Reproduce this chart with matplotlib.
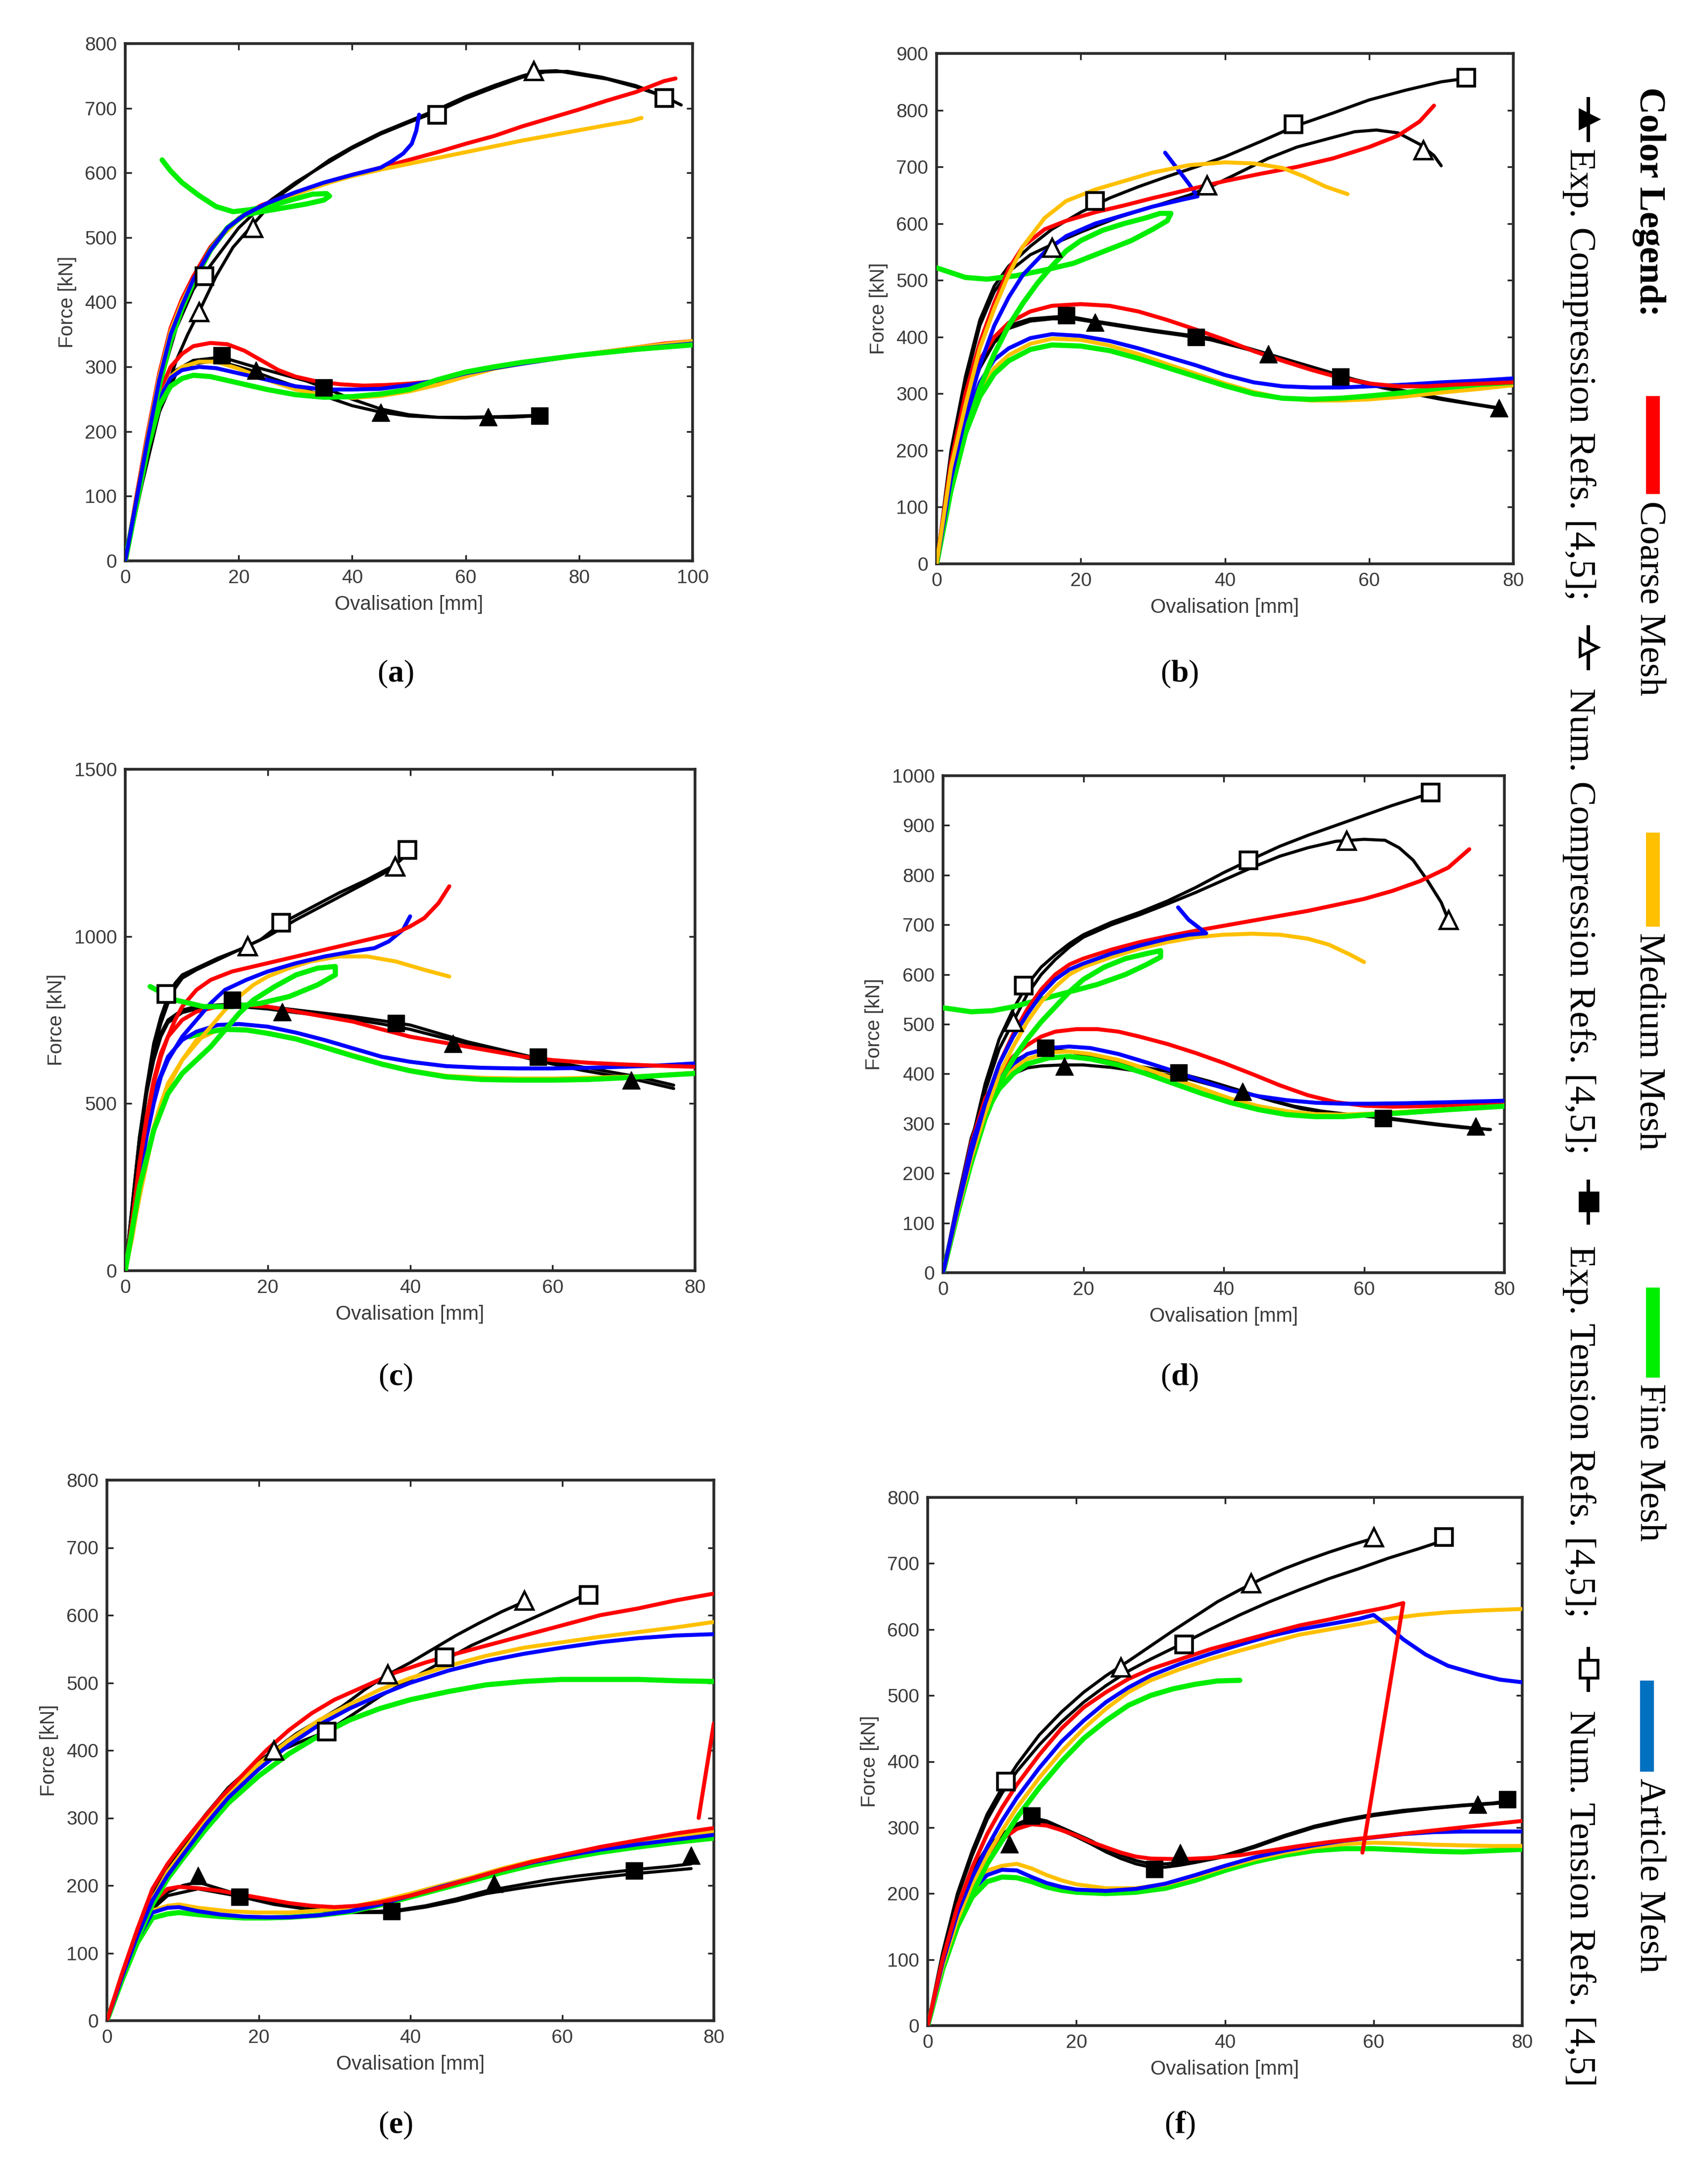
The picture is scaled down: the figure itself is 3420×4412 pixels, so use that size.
import matplotlib
matplotlib.use("Agg")
import matplotlib.pyplot as plt
from matplotlib.lines import Line2D
from matplotlib.patches import Rectangle

plt.rcParams['mathtext.fontset'] = 'custom'
plt.rcParams['mathtext.rm'] = 'Liberation Serif'
plt.rcParams['mathtext.bf'] = 'Liberation Serif:bold'

RED = '#FF0000'
ORANGE = '#FFC000'
GREEN = '#00EE00'
BLUE = '#0000FF'
LEG_BLUE = '#0070C0'

# ---------------- panel (a) ----------------
A_NUMC = [(0,0),(3,120),(6,230),(9,310),(11,350),(13,385),(16,440),(19,485),(22,515),(25,545),(28,570),(32,595),(36,620),(40,640),(45,662),(50,680),(55,698),(60,718),(65,735),(70,750),(73,757),(76,758),(80,752),(85,745),(90,733),(95,718),(98,705)]
A_NUMT = [(0,0),(3,150),(6,270),(9,360),(12,420),(14,445),(17,480),(20,515),(23,540),(26,560),(30,585),(35,612),(40,638),(45,660),(50,678),(55,695),(60,715),(65,732),(70,748),(74,756),(78,757),(84,748),(90,735),(95,718)]
A_EXPC = [(0,0),(3,130),(6,230),(9,290),(12,305),(15,308),(18,305),(22,295),(26,282),(30,270),(35,255),(40,240),(45,230),(50,224),(55,222),(60,221),(64,222),(68,222),(72,224)]
A_EXPT = [(0,0),(3,130),(6,235),(9,295),(12,310),(17,315),(22,302),(27,290),(32,278),(35,268),(40,250),(45,235),(50,226),(55,222),(60,222),(66,223),(73,225)]
A_TRI_OPEN = [(13,385),(22.5,515),(72,758)]
A_SQ_OPEN = [(14,440),(55,690),(95,716)]
A_TRI_FILL = [(23,295),(45,230),(64,223)]
A_SQ_FILL = [(17,318),(35,268),(73,224)]
A_RED_UP = [(0,0),(2,100),(4,200),(6,290),(8,360),(10,405),(12,440),(15,485),(17,505),(20,530),(24,550),(28,563),(32,575),(36,587),(40,597),(45,608),(50,620),(55,632),(60,645),(65,657),(70,672),(75,685),(80,698),(85,712),(90,725),(95,742),(97,746)]
A_ORA_UP = [(0,0),(2,95),(4,195),(6,285),(8,355),(10,400),(12,435),(15,480),(17,502),(20,528),(24,548),(28,561),(32,573),(36,585),(40,595),(45,605),(50,614),(55,623),(60,632),(65,641),(70,650),(75,658),(80,666),(85,674),(89,680),(91,685)]
A_BLU_UP = [(0,0),(2,95),(4,190),(6,280),(8,350),(10,395),(12,435),(15,480),(18,515),(21,535),(25,553),(30,570),(35,585),(40,597),(45,608),(47,618),(49,630),(50.5,645),(51.3,665),(51.8,690)]
A_GRN_UP = [(0,0),(2,90),(4,185),(6,270),(8,340),(10,390),(12,430),(15,480),(18,515),(21,535),(24,540),(28,546),(32,552),(35,558),(36,564),(35.5,568),(33,567),(30,560),(26,550),(22,543),(19,540),(16,548),(13,565),(10,585),(8,603),(6.5,620)]
A_RED_LO = [(0,0),(2,100),(4,200),(6,260),(8,300),(10,320),(12,332),(15,337),(18,335),(21,325),(24,310),(27,295),(30,285),(34,277),(38,273),(42,271),(46,272),(50,274),(55,278),(60,288),(65,298),(70,305),(75,312),(80,318),(85,324),(90,330),(95,336),(100,340)]
A_ORA_LO = [(0,0),(2,90),(4,180),(6,250),(8,285),(10,300),(13,308),(16,308),(20,297),(25,280),(30,265),(35,256),(40,252),(45,255),(50,262),(55,272),(60,285),(65,297),(70,305),(80,318),(90,330),(100,340)]
A_BLU_LO = [(0,0),(2,90),(4,180),(6,250),(8,283),(10,295),(13,300),(16,298),(20,290),(25,280),(30,270),(35,265),(40,265),(45,266),(50,272),(55,279),(60,290),(65,298),(70,305),(80,318),(90,328),(100,336)]
A_GRN_LO = [(0,0),(2,88),(4,175),(6,240),(8,270),(10,282),(12,287),(15,285),(20,275),(25,265),(30,257),(35,253),(40,254),(45,258),(50,265),(55,280),(60,292),(65,300),(70,307),(80,318),(90,327),(100,334)]

# ---------------- panel (b) ----------------
B_NUMT = [(0,0),(2,200),(4,330),(6,430),(8,490),(10,525),(13,560),(16,590),(20,620),(24,645),(28,665),(32,683),(36,700),(40,718),(45,745),(50,773),(55,795),(60,818),(65,835),(70,850),(74,857)]
B_NUMC = [(0,0),(2,190),(4,320),(6,420),(8,480),(10,515),(13,545),(16,563),(20,585),(25,610),(30,630),(35,650),(38,665),(42,690),(46,715),(50,735),(55,752),(58,762),(61,765),(64,760),(67,740),(69,720),(70,702)]
B_EXPT = [(0,0),(2,170),(4,280),(6,350),(8,395),(10,420),(13,432),(16,435),(18,437),(22,428),(26,420),(30,412),(34,405),(38,398),(42,385),(46,370),(50,355),(54,340),(58,325),(62,313),(66,302),(70,292),(74,283),(78,275)]
B_EXPC = [(0,0),(2,165),(4,275),(6,345),(8,390),(10,415),(13,428),(16,432),(19,432),(22,426),(26,418),(30,410),(34,403),(38,395),(42,382),(46,368),(50,353),(54,338),(58,322),(62,310),(66,300),(70,290),(74,282),(78,274)]
B_TRI_OPEN = [(16,558),(37.5,668),(67.5,730)]
B_SQ_OPEN = [(22,640),(49.5,775),(73.5,857)]
B_TRI_FILL = [(22,426),(46,370),(78,275)]
B_SQ_FILL = [(18,438),(36,400),(56,330)]
B_RED_UP = [(0,0),(2,180),(4,300),(6,390),(8,460),(10,520),(12,560),(15,590),(18,605),(22,620),(26,632),(30,645),(35,660),(40,675),(45,688),(50,700),(55,715),(60,735),(64,755),(67,780),(69,808)]
B_ORA_UP = [(0,0),(2,170),(4,280),(6,380),(8,450),(10,510),(12,560),(15,610),(18,640),(22,660),(26,675),(30,690),(35,703),(40,708),(44,706),(48,698),(51,683),(54,665),(57,652)]
B_BLU_UP = [(0,0),(2,150),(4,260),(6,350),(8,420),(10,470),(12,510),(15,550),(18,578),(22,600),(26,615),(30,630),(34,642),(36.2,648),(35,670),(33.5,695),(31.7,725)]
B_GRN_UP = [(0,0),(2,130),(4,230),(6,310),(8,370),(10,420),(12,460),(14,495),(16,525),(18,552),(20,570),(23,588),(26,600),(29,610),(31,618),(32.5,618),(32,605),(30,590),(27,570),(23,550),(19,530),(15,518),(11,508),(7,502),(4,505),(0,522)]
B_RED_LO = [(0,0),(2,170),(4,290),(6,360),(8,400),(10,425),(13,445),(16,455),(20,458),(24,455),(28,445),(32,430),(36,413),(40,395),(44,375),(48,358),(52,342),(56,328),(60,318),(64,313),(68,313),(72,316),(76,318),(80,320)]
B_BLU_LO = [(0,0),(2,150),(4,250),(6,320),(8,360),(10,380),(13,398),(16,405),(20,402),(24,393),(28,380),(32,365),(36,350),(40,333),(44,320),(48,313),(52,311),(56,311),(60,313),(65,316),(70,320),(75,323),(80,327)]
B_ORA_LO = [(0,0),(2,140),(4,240),(6,305),(8,345),(10,368),(13,388),(16,397),(20,395),(24,385),(28,370),(32,352),(36,335),(40,318),(44,303),(48,292),(52,288),(56,288),(60,290),(65,295),(70,302),(75,308),(80,315)]
B_GRN_LO = [(0,0),(2,130),(4,230),(6,295),(8,335),(10,358),(13,378),(16,386),(20,384),(24,376),(28,362),(32,346),(36,330),(40,314),(44,300),(48,292),(52,290),(56,292),(60,296),(65,302),(70,310),(75,316),(80,320)]

# ---------------- panel (c) ----------------
C_NUMT = [(0,0),(1,200),(2,400),(3,550),(4,680),(5,760),(6,820),(7,860),(8,885),(10,905),(13,935),(16,960),(19,990),(22,1040),(26,1085),(30,1130),(34,1170),(38,1215),(40,1255)]
C_NUMC = [(0,0),(1,180),(2,380),(3,530),(4,660),(5,740),(6,800),(7,845),(8,875),(10,900),(13,930),(17,970),(20,1000),(24,1050),(28,1095),(32,1140),(36,1185),(38,1210)]
C_EXPT = [(0,0),(1,200),(2,400),(3,540),(4,640),(5,710),(6,750),(8,780),(10,790),(13,795),(16,798),(20,790),(24,780),(28,770),(32,760),(36,748),(40,735),(44,710),(48,685),(52,665),(56,645),(60,625),(64,610),(68,595),(72,580),(77,555)]
C_EXPC = [(0,0),(1,190),(2,390),(3,530),(4,630),(5,700),(6,742),(8,772),(10,783),(13,788),(16,790),(20,783),(24,772),(28,762),(32,752),(36,738),(40,722),(44,700),(48,680),(52,660),(56,638),(60,618),(64,600),(68,585),(72,570),(77,545)]
C_TRI_OPEN = [(17.2,972),(37.9,1210)]
C_SQ_OPEN = [(5.8,827),(21.9,1041),(39.6,1259)]
C_TRI_FILL = [(22,775),(46,680),(71,570)]
C_SQ_FILL = [(15,810),(38,740),(58,640)]
C_RED_UP = [(0,0),(1,150),(2,320),(3,450),(4,560),(5,640),(6,700),(7,750),(8,790),(10,840),(12,870),(15,895),(18,910),(22,930),(26,950),(30,970),(34,990),(38,1010),(40,1030),(42,1055),(44,1100),(45.5,1150)]
C_BLU_UP = [(0,0),(1,130),(2,280),(3,400),(4,500),(5,580),(6,630),(8,700),(10,750),(12,800),(14,840),(17,870),(20,895),(24,920),(28,940),(32,955),(35,965),(37,985),(39,1020),(40,1060)]
C_ORA_UP = [(0,0),(1,100),(2,230),(3,340),(4,430),(5,500),(6,560),(8,630),(10,680),(12,730),(14,780),(16,820),(18,855),(20,880),(23,905),(26,925),(30,940),(34,940),(38,925),(42,900),(45.5,880)]
C_GRN_UP = [(0,0),(2,250),(4,420),(6,530),(8,590),(10,630),(12,670),(14,720),(16,770),(18,810),(21,850),(24,885),(27,905),(29.5,910),(29.5,885),(27,855),(23,820),(19,800),(15,790),(11,790),(7,810),(3.5,850)]
C_RED_LO = [(0,0),(1,150),(2,320),(3,460),(4,570),(5,650),(6,700),(8,750),(10,775),(13,790),(16,795),(20,790),(24,775),(28,760),(32,745),(36,722),(40,700),(44,685),(48,670),(52,655),(56,640),(60,630),(65,622),(70,617),(75,613),(80,610)]
C_BLU_LO = [(0,0),(2,300),(4,530),(6,640),(8,690),(10,715),(13,735),(16,738),(20,730),(24,712),(28,690),(32,665),(36,640),(40,625),(45,612),(50,607),(55,605),(60,605),(65,607),(70,610),(75,614),(80,620)]
C_ORA_LO = [(0,0),(2,220),(4,420),(6,550),(8,630),(10,690),(13,720),(16,722),(20,712),(24,695),(28,670),(32,645),(36,620),(40,600),(45,583),(50,577),(55,575),(60,575),(65,577),(70,580),(75,585),(80,592)]
C_GRN_LO = [(9,700),(11,712),(14,722),(17,720),(20,710),(24,693),(28,668),(32,642),(36,618),(40,598),(45,580),(50,572),(55,570),(60,570),(65,572),(70,577),(75,584),(80,590)]

# ---------------- panel (d) ----------------
D_NUMT = [(0,0),(2,130),(4,260),(6,380),(8,470),(10,530),(12,580),(14,615),(16,640),(18,662),(20,680),(24,705),(28,725),(32,748),(36,775),(40,805),(44,832),(48,858),(52,880),(56,900),(60,920),(64,940),(68,958),(70,965)]
D_NUMC = [(0,0),(2,125),(4,250),(6,365),(8,450),(10,505),(12,560),(14,600),(16,630),(18,655),(20,675),(24,700),(28,720),(32,742),(36,765),(40,790),(44,815),(48,838),(52,855),(56,868),(60,872),(63,870),(65,855),(67,830),(69,790),(71,745),(72,710)]
D_EXPT = [(0,0),(2,140),(4,270),(6,350),(8,400),(10,425),(12,440),(15,450),(18,445),(22,432),(26,420),(30,410),(34,400),(38,385),(42,368),(46,350),(50,335),(54,325),(58,318),(62,312),(66,305),(70,298),(74,292),(78,288)]
D_EXPC = [(0,0),(2,130),(4,250),(6,330),(8,375),(10,400),(12,412),(14,416),(17,418),(20,418),(24,413),(28,405),(32,398),(35,390),(39,375),(43,362),(47,345),(51,330),(55,322),(59,317),(63,312),(67,305),(71,298),(75,292),(78,288)]
D_TRI_OPEN = [(10,505),(57.5,870),(72,710)]
D_SQ_OPEN = [(11.5,578),(43.5,830),(69.5,966)]
D_TRI_FILL = [(17.3,415),(42.7,365),(75.9,295)]
D_SQ_FILL = [(14.6,452),(33.6,402),(62.7,311)]
D_RED_UP = [(0,0),(2,125),(4,240),(6,340),(8,420),(10,480),(12,530),(14,570),(16,600),(18,620),(20,632),(24,650),(28,665),(32,677),(36,688),(40,698),(44,708),(48,718),(52,728),(56,740),(60,752),(64,768),(68,788),(72,815),(75,852)]
D_BLU_UP = [(0,0),(2,125),(4,240),(6,340),(8,420),(10,475),(12,520),(14,560),(16,590),(18,610),(20,622),(24,642),(28,658),(32,672),(35,680),(37.5,683),(35,710),(33.5,735)]
D_ORA_UP = [(0,0),(2,120),(4,230),(6,320),(8,400),(10,455),(12,505),(14,545),(16,575),(18,600),(20,615),(24,635),(28,652),(32,665),(36,675),(40,680),(44,682),(48,680),(52,672),(55,660),(58,640),(60,625)]
D_GRN_UP = [(0,0),(2,115),(4,220),(6,310),(8,380),(10,430),(12,470),(14,505),(16,535),(18,565),(20,590),(23,615),(26,632),(29,642),(31,648),(31,635),(29,620),(26,600),(22,580),(18,565),(14,550),(10,535),(7,527),(4,525),(0,533)]
D_RED_LO = [(0,0),(2,130),(4,260),(6,350),(8,400),(10,435),(12,458),(14,475),(16,485),(19,490),(22,490),(25,485),(28,475),(32,460),(36,442),(40,422),(44,400),(48,377),(52,357),(56,343),(60,336),(64,334),(68,335),(72,337),(76,339),(80,340)]
D_BLU_LO = [(0,0),(2,130),(4,255),(6,340),(8,390),(10,420),(12,440),(15,452),(18,455),(21,452),(25,440),(29,423),(33,405),(37,385),(41,367),(45,355),(49,347),(53,342),(57,340),(61,340),(66,341),(72,343),(80,346)]
D_ORA_LO = [(0,0),(2,125),(4,245),(6,330),(8,380),(10,410),(12,430),(15,443),(18,445),(21,440),(25,428),(29,410),(33,390),(37,370),(41,350),(45,335),(49,325),(53,319),(57,318),(61,320),(66,324),(72,329),(80,336)]
D_GRN_LO = [(0,0),(2,120),(4,235),(6,320),(8,370),(10,400),(12,420),(15,432),(18,435),(21,430),(25,418),(29,400),(33,380),(37,360),(41,342),(45,328),(49,318),(53,314),(57,314),(61,318),(66,322),(72,328),(80,335)]

# ---------------- panel (e) ----------------
E_NUMC = [(0,0),(2,70),(4,135),(6,185),(8,225),(10,260),(13,305),(16,345),(19,375),(22,400),(25,425),(28,445),(31,465),(34,490),(37,512),(40,530),(43,550),(46,570),(49,588),(52,605),(55,620)]
E_NUMT = [(0,0),(2,70),(4,135),(6,182),(8,220),(10,255),(13,300),(16,340),(19,372),(22,395),(26,415),(29,428),(32,450),(36,480),(40,505),(44,530),(48,555),(52,575),(56,595),(60,615),(63,630)]
E_EXPC = [(0,0),(2,70),(4,130),(6,170),(8,190),(10,200),(12,205),(14,198),(17,188),(20,180),(23,172),(26,166),(30,162),(34,161),(38,163),(42,170),(46,180),(50,192),(54,200),(58,208),(62,214),(66,219),(70,224),(74,228),(77,232)]
E_EXPT = [(0,0),(2,68),(4,128),(6,165),(8,185),(12,195),(17,185),(22,172),(27,164),(32,160),(37,160),(42,168),(46,177),(50,188),(55,197),(60,205),(65,212),(70,218),(77,225)]
E_TRI_OPEN = [(22,400),(37,513),(55,622)]
E_SQ_OPEN = [(29,428),(44.5,538),(63.5,630)]
E_TRI_FILL = [(12,215),(51,203),(77,245)]
E_SQ_FILL = [(17.5,183),(37.5,162),(69.5,222)]
E_RED_UP = [(0,0),(2,70),(4,135),(6,195),(8,232),(10,262),(12,290),(15,330),(18,365),(21,400),(24,430),(27,455),(30,475),(34,495),(38,515),(42,530),(46,543),(50,555),(55,570),(60,585),(65,600),(70,610),(75,622),(80,632)]
E_ORA_UP = [(0,0),(2,65),(4,125),(6,180),(8,220),(10,250),(13,295),(16,335),(20,380),(24,415),(28,445),(32,468),(36,490),(40,507),(45,525),(50,540),(55,552),(60,560),(65,568),(70,575),(75,582),(80,590)]
E_BLU_UP = [(0,0),(2,65),(4,125),(6,178),(8,215),(10,245),(13,290),(16,330),(20,372),(24,408),(28,438),(32,462),(36,482),(40,500),(45,518),(50,532),(55,543),(60,552),(65,560),(70,566),(75,570),(80,572)]
E_GRN_UP = [(0,0),(2,62),(4,120),(6,172),(8,210),(10,240),(13,283),(16,322),(20,362),(24,395),(28,422),(32,445),(36,462),(40,475),(45,487),(50,497),(55,502),(60,505),(65,505),(70,505),(75,503),(80,502)]
E_RED_JUMP = [(78,300),(80,440)]
E_RED_LO = [(0,0),(2,65),(4,125),(6,175),(8,195),(9.5,198),(12,196),(15,192),(18,186),(21,180),(24,174),(27,170),(30,168),(33,170),(36,175),(40,185),(44,197),(48,210),(52,223),(56,235),(60,245),(65,257),(70,267),(75,277),(80,285)]
E_ORA_LO = [(0,0),(2,62),(4,120),(6,163),(8,170),(9.5,172),(12,167),(16,162),(20,160),(24,160),(28,163),(32,168),(36,177),(40,188),(44,200),(48,212),(52,225),(56,236),(60,245),(65,256),(70,265),(75,273),(80,280)]
E_BLU_LO = [(0,0),(2,62),(4,120),(6,160),(8,167),(9.5,168),(12,162),(15,157),(18,154),(21,153),(24,153),(28,156),(32,162),(36,172),(40,185),(44,198),(48,210),(52,223),(56,234),(60,243),(65,253),(70,261),(75,268),(80,275)]
E_GRN_LO = [(0,0),(2,60),(4,115),(6,152),(8,158),(9.5,160),(12,157),(15,154),(18,152),(21,152),(24,153),(28,156),(32,161),(36,171),(40,183),(44,195),(48,207),(52,219),(56,230),(60,239),(65,249),(70,257),(75,264),(80,270)]

# ---------------- panel (f) ----------------
F_NUMC = [(0,0),(2,110),(4,200),(6,265),(8,320),(10,360),(12,395),(15,440),(18,475),(21,505),(24,530),(27,552),(30,575),(33,598),(36,620),(39,642),(42,660),(45,677),(48,692),(51,705),(54,717),(57,728),(60,738)]
F_NUMT = [(0,0),(2,105),(4,195),(6,258),(8,312),(10,352),(12,385),(15,425),(18,460),(21,490),(24,515),(27,537),(30,555),(34,577),(38,600),(42,622),(46,642),(50,660),(54,677),(58,692),(62,708),(66,722),(69.5,735)]
F_EXPC = [(0,0),(2,100),(4,180),(6,235),(8,270),(10,290),(12,305),(14,315),(16,310),(18,300),(20,290),(22,280),(24,268),(26,258),(28,250),(30,245),(32,245),(34,247),(36,250),(40,258),(44,272),(48,288),(52,302),(56,312),(60,320),(64,326),(68,330),(72,334),(76,337),(78,340)]
F_EXPT = [(0,0),(2,98),(4,176),(6,230),(8,265),(10,286),(12,300),(14,310),(16,306),(18,296),(20,286),(22,275),(24,263),(26,253),(28,245),(30,240),(32,240),(34,243),(36,247),(40,256),(44,270),(48,286),(52,300),(56,310),(60,318),(64,324),(68,329),(72,333),(76,336),(78,338)]
F_TRI_OPEN = [(26,543),(43.5,670),(60,740)]
F_SQ_OPEN = [(10.5,370),(34.5,577),(69.5,740)]
F_TRI_FILL = [(11,275),(34,262),(74,335)]
F_SQ_FILL = [(14,318),(30.5,237),(78,343)]
F_RED_UP = [(0,0),(2,100),(4,180),(6,240),(8,290),(10,330),(12,365),(15,410),(18,450),(21,482),(24,505),(27,525),(30,540),(34,555),(38,570),(42,582),(46,594),(50,606),(54,615),(58,625),(62,634),(64,640),(58.5,262)]
F_BLU_UP = [(0,0),(2,95),(4,170),(6,225),(8,270),(10,310),(12,345),(15,390),(18,430),(21,462),(24,490),(27,512),(30,530),(34,548),(38,563),(42,577),(46,590),(50,600),(54,608),(58,616),(60,622),(62,605),(64,585),(67,562),(70,545),(74,532),(77,524),(80,520)]
F_ORA_UP = [(0,0),(2,90),(4,160),(6,215),(8,258),(10,295),(12,330),(15,375),(18,415),(21,450),(24,480),(27,505),(30,523),(34,540),(38,555),(42,568),(46,580),(50,592),(54,600),(58,608),(62,616),(66,622),(70,626),(75,629),(80,631)]
F_GRN_UP = [(0,0),(2,85),(4,150),(6,200),(8,245),(10,280),(12,315),(15,360),(18,400),(21,435),(24,462),(27,485),(30,500),(33,510),(36,517),(39,522),(42,523)]
F_RED_LO = [(0,0),(2,95),(4,170),(6,225),(8,260),(10,282),(12,298),(14,305),(16,303),(18,296),(20,288),(22,278),(24,270),(26,262),(28,256),(30,253),(34,252),(38,254),(42,258),(46,265),(50,272),(54,278),(58,283),(62,288),(66,293),(70,298),(75,304),(80,310)]
F_BLU_LO = [(0,0),(2,90),(4,160),(6,205),(8,228),(10,236),(12,235),(14,225),(16,216),(18,210),(20,206),(24,204),(28,207),(32,215),(36,228),(40,242),(44,255),(48,265),(52,273),(56,280),(60,285),(64,290),(68,293),(72,294),(76,294),(80,294)]
F_ORA_LO = [(0,0),(2,88),(4,155),(6,200),(8,235),(10,242),(12,245),(14,238),(16,228),(18,220),(20,214),(24,208),(28,208),(32,214),(36,226),(40,240),(44,252),(48,262),(52,270),(56,275),(60,277),(64,276),(68,274),(72,273),(76,272),(80,272)]
F_GRN_LO = [(0,0),(2,85),(4,150),(6,195),(8,218),(10,225),(12,224),(14,218),(16,210),(18,205),(20,202),(24,200),(28,202),(32,208),(36,220),(40,235),(44,248),(48,258),(52,265),(56,268),(60,268),(64,266),(68,264),(72,263),(76,265),(80,267)]

# axis settings per panel
PANEL_LABELS = ['a', 'b', 'c', 'd', 'e', 'f']
X_MAX = [100, 80, 80, 80, 80, 80]
Y_MAX = [800, 900, 1500, 1000, 800, 800]
Y_STEP = [100, 100, 500, 100, 100, 100]

LEG_COLORS = ['Coarse Mesh', 'Medium Mesh', 'Fine Mesh', 'Article Mesh']
LEG_MARKERS = ['Exp. Compression Refs. [4,5];', 'Num. Compression Refs. [4,5];',
               'Exp. Tension Refs. [4,5];', 'Num. Tension Refs. [4,5]']

W, H = 3420, 4412
fig = plt.figure(figsize=(W / 100, H / 100), dpi=100)
fig.patch.set_facecolor('white')

def fx(px):
    return px / W

def fy(py):
    return 1 - py / H

# axes boxes in pixels (left, top, right, bottom)
BOXES = [(253, 88, 1399, 1133), (1892, 108, 3057, 1139),
         (253, 1554, 1404, 2567), (1905, 1567, 3039, 2571),
         (216, 2990, 1442, 4082), (1874, 3025, 3075, 4092)]
LABEL_POS = [(799, 1362), (2383, 1362), (799, 2783), (2383, 2783), (799, 4294), (2383, 4294)]

panels = [
    dict(black=[A_NUMC, A_NUMT, A_EXPC, A_EXPT], tro=A_TRI_OPEN, sqo=A_SQ_OPEN, trf=A_TRI_FILL, sqf=A_SQ_FILL,
         col=[(A_RED_LO, RED), (A_ORA_LO, ORANGE), (A_BLU_LO, BLUE), (A_GRN_LO, GREEN),
              (A_RED_UP, RED), (A_ORA_UP, ORANGE), (A_GRN_UP, GREEN), (A_BLU_UP, BLUE)]),
    dict(black=[B_NUMC, B_NUMT, B_EXPC, B_EXPT], tro=B_TRI_OPEN, sqo=B_SQ_OPEN, trf=B_TRI_FILL, sqf=B_SQ_FILL,
         col=[(B_ORA_LO, ORANGE), (B_GRN_LO, GREEN), (B_BLU_LO, BLUE), (B_RED_LO, RED),
              (B_GRN_UP, GREEN), (B_BLU_UP, BLUE), (B_RED_UP, RED), (B_ORA_UP, ORANGE)]),
    dict(black=[C_NUMC, C_NUMT, C_EXPC, C_EXPT], tro=C_TRI_OPEN, sqo=C_SQ_OPEN, trf=C_TRI_FILL, sqf=C_SQ_FILL,
         col=[(C_ORA_LO, ORANGE), (C_GRN_LO, GREEN), (C_BLU_LO, BLUE), (C_RED_LO, RED),
              (C_ORA_UP, ORANGE), (C_BLU_UP, BLUE), (C_RED_UP, RED), (C_GRN_UP, GREEN)]),
    dict(black=[D_NUMC, D_NUMT, D_EXPC, D_EXPT], tro=D_TRI_OPEN, sqo=D_SQ_OPEN, trf=D_TRI_FILL, sqf=D_SQ_FILL,
         col=[(D_RED_LO, RED), (D_ORA_LO, ORANGE), (D_GRN_LO, GREEN), (D_BLU_LO, BLUE),
              (D_GRN_UP, GREEN), (D_ORA_UP, ORANGE), (D_RED_UP, RED), (D_BLU_UP, BLUE)]),
    dict(black=[E_NUMC, E_NUMT, E_EXPC, E_EXPT], tro=E_TRI_OPEN, sqo=E_SQ_OPEN, trf=E_TRI_FILL, sqf=E_SQ_FILL,
         col=[(E_GRN_LO, GREEN), (E_ORA_LO, ORANGE), (E_BLU_LO, BLUE), (E_RED_LO, RED),
              (E_GRN_UP, GREEN), (E_ORA_UP, ORANGE), (E_BLU_UP, BLUE), (E_RED_UP, RED), (E_RED_JUMP, RED)]),
    dict(black=[F_NUMC, F_NUMT, F_EXPC, F_EXPT], tro=F_TRI_OPEN, sqo=F_SQ_OPEN, trf=F_TRI_FILL, sqf=F_SQ_FILL,
         col=[(F_GRN_LO, GREEN), (F_ORA_LO, ORANGE), (F_BLU_LO, BLUE), (F_RED_LO, RED),
              (F_GRN_UP, GREEN), (F_ORA_UP, ORANGE), (F_BLU_UP, BLUE), (F_RED_UP, RED)]),
]

def xs(pts):
    return [p[0] for p in pts]

def ys(pts):
    return [p[1] for p in pts]

TICK_COLOR = '#3a3a3a'
for i, pan in enumerate(panels):
    l, t, r, b = BOXES[i]
    ax = fig.add_axes([fx(l), fy(b), fx(r) - fx(l), fy(t) - fy(b)])
    for pts in pan['black']:
        ax.plot(xs(pts), ys(pts), color='black', lw=4.5, zorder=2,
                solid_capstyle='round', solid_joinstyle='round')
    for pts, c in pan['col']:
        lw = 7.5 if c == GREEN else 5.8
        ax.plot(xs(pts), ys(pts), color=c, lw=lw, zorder=3, solid_joinstyle='round', solid_capstyle='round')
    ax.plot(xs(pan['tro']), ys(pan['tro']), ls='none', marker='^', ms=26, mfc='white', mec='black', mew=3.5, zorder=5)
    ax.plot(xs(pan['sqo']), ys(pan['sqo']), ls='none', marker='s', ms=25, mfc='white', mec='black', mew=4, zorder=5)
    ax.plot(xs(pan['trf']), ys(pan['trf']), ls='none', marker='^', ms=26, mfc='black', mec='black', zorder=5)
    ax.plot(xs(pan['sqf']), ys(pan['sqf']), ls='none', marker='s', ms=25, mfc='black', mec='black', zorder=5)

    ax.set_xlim(0, X_MAX[i])
    ax.set_ylim(0, Y_MAX[i])
    ax.set_xticks(range(0, X_MAX[i] + 1, 20))
    ax.set_yticks(range(0, Y_MAX[i] + 1, Y_STEP[i]))
    ax.tick_params(direction='in', top=True, right=True, length=9, width=2.5,
                   labelsize=28, colors='#222222', labelcolor=TICK_COLOR, pad=12)
    for lab in ax.get_xticklabels() + ax.get_yticklabels():
        lab.set_family('Liberation Sans')
    for s in ax.spines.values():
        s.set_linewidth(4)
        s.set_color('#2a2a2a')
    ax.set_xlabel('Ovalisation [mm]', fontsize=29, family='Liberation Sans', color=TICK_COLOR, labelpad=12)
    ax.set_ylabel('Force [kN]', fontsize=29, family='Liberation Sans', color=TICK_COLOR, labelpad=12)
    lx, ly = LABEL_POS[i]
    fig.text(fx(lx), fy(ly), '($\\mathbf{%s}$)' % PANEL_LABELS[i], fontsize=46,
             family='Liberation Serif', ha='center', va='center')

# ---------------- right-side legend ----------------
SERIF = 'Liberation Serif'
LFS = 54

def vtext(xb, ystart, s, bold=False):
    fig.text(fx(xb), fy(ystart), s, rotation=-90, rotation_mode='anchor', ha='left', va='baseline',
             fontsize=LFS, family=SERIF, fontweight='bold' if bold else 'normal')

vtext(3313, 176, 'Color Legend:', bold=True)
COLOR_BARS = [(RED, 3325, 800, 998, 1012), (ORANGE, 3325, 1682, 1872, 1884),
              (GREEN, 3325, 2601, 2783, 2795), (LEG_BLUE, 3313, 3395, 3579, 3592)]
for (c, x0, y0, y1, ytxt), name in zip(COLOR_BARS, LEG_COLORS):
    fig.patches.append(Rectangle((fx(x0), fy(y1)), fx(28), (y1 - y0) / H, transform=fig.transFigure,
                                 facecolor=c, edgecolor='none'))
    vtext(3313, ytxt, name)

MARKER_ITEMS = [(241, '>', 'black', 300), (1308, '>', 'white', 1390),
                (2428, 's', 'black', 2516), (3372, 's', 'white', 3455)]
for (yc, m, fc, ytxt), name in zip(MARKER_ITEMS, LEG_MARKERS):
    fig.add_artist(Line2D([fx(3208), fx(3208)], [fy(yc - 42), fy(yc + 42)], transform=fig.transFigure,
                          color='black', lw=5, marker=None))
    fig.add_artist(Line2D([fx(3210)], [fy(yc)], transform=fig.transFigure, ls='none',
                          marker=m, ms=26, mfc=fc, mec='black', mew=4))
    vtext(3172, ytxt, name)

fig.savefig('out.png', dpi=100, facecolor='white')
